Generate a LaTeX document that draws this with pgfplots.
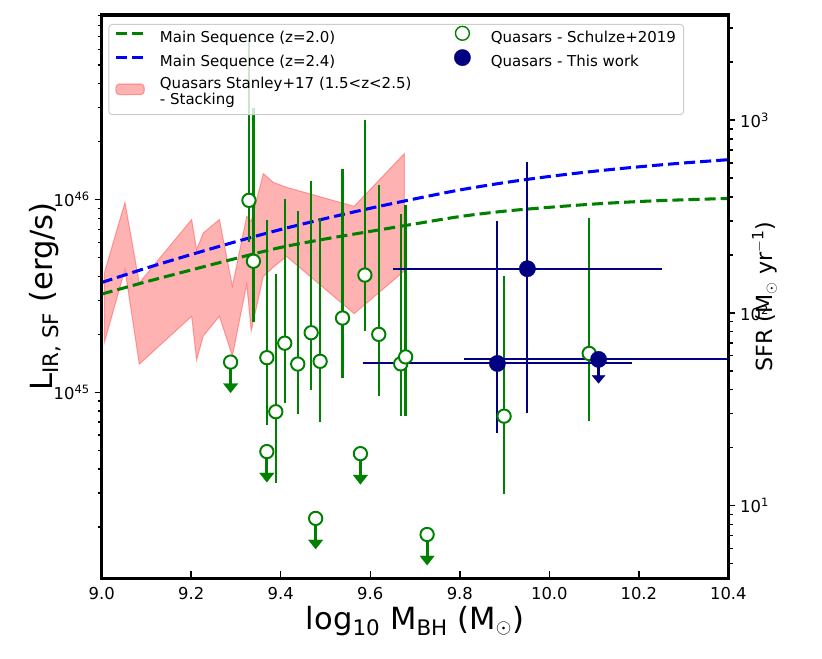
\documentclass[border=0pt]{standalone}
\usepackage{fontspec}
\setmainfont{DejaVu Sans}
\usepackage{pgfplots}
\pgfplotsset{compat=1.18}
\definecolor{mplgreen}{RGB}{0,128,0}
\definecolor{mplblue}{RGB}{0,0,255}
\definecolor{mplnavy}{RGB}{0,0,128}
\definecolor{legframe}{RGB}{204,204,204}
\pgfplotsset{
  lineleg/.style={legend image code/.code={\draw[##1] (0pt,3.8pt) -- (20.4pt,3.8pt);}},
  arealeg/.style={legend image code/.code={\draw[##1] (0pt,-1.05pt) rectangle (20.4pt,6.65pt);}},
  markleg/.style={legend image code/.code={\path[draw=none,fill=none] (0pt,3.8pt) -- (20.4pt,3.8pt); \path[##1] plot coordinates {(10.2pt,3.8pt)};}},
}
\begin{document}
\begin{tikzpicture}
\path[use as bounding box] (-73.2pt,-57.4pt) rectangle (518.6pt,416.4pt);
\begin{axis}[
  at={(0pt,0pt)}, anchor=south west,
  scale only axis, width=451.2pt, height=405.6pt,
  xmin=9, xmax=10.4,
  ymode=log, ymin=1.086e44, ymax=9.08e46,
  axis line style={draw=none},
  xtick={9.0,9.2,9.4,9.6,9.8,10.0,10.2,10.4},
  xticklabels={9.0,9.2,9.4,9.6,9.8,10.0,10.2,10.4},
  ytick={1e45,1e46},
  yticklabels={10\textsuperscript{45},10\textsuperscript{46}},
  minor ytick={2e44,3e44,4e44,5e44,6e44,7e44,8e44,9e44,2e45,3e45,4e45,5e45,6e45,7e45,8e45,9e45,2e46,3e46,4e46,5e46,6e46,7e46,8e46,9e46},
  xtick pos=bottom, ytick pos=left,
  xtick align=inside, ytick align=outside,
  major tick length=5pt, minor tick length=3pt,
  every tick/.style={black, line width=1.1pt},
  tick label style={font=\fontsize{11.8}{14}\selectfont},
  xticklabel style={yshift=-3pt},
  xlabel={log\textsubscript{10} M\textsubscript{BH} (M\textsubscript{$\odot$})},
  xlabel style={font=\fontsize{22}{26}\selectfont, at={([yshift=-20pt]axis description cs:0.5,0)}, anchor=north, inner sep=0pt},
  ylabel={L\textsubscript{IR, SF} (erg/s)},
  ylabel style={font=\fontsize{22}{26}\selectfont, at={([xshift=-40.8pt]axis description cs:0,0.5)}, anchor=center, inner sep=0pt},
  legend columns=2,
  legend cell align=left,
  legend style={at={(axis description cs:0,1)}, anchor=north west, xshift=4.8pt, yshift=-6.5pt,
    draw=legframe, line width=0.7pt, rounded corners=2.5pt, fill=white, fill opacity=0.8, draw opacity=1, text opacity=1,
    font=\fontsize{10.8}{11.5}\selectfont,
    inner xsep=4pt, inner ysep=1.4pt, row sep=0pt,
    nodes={text height=8.2pt, text depth=2.6pt, inner ysep=2.4pt, inner xsep=1.5pt},
    /tikz/every odd column/.append style={column sep=8.7pt},
    /tikz/every even column/.append style={column sep=25pt}},
]
% Stanley+17 stacking band
\addplot[forget plot, fill=red, fill opacity=0.3, draw=red, draw opacity=0.3, line width=0.75pt] coordinates {
(9.006,4.17e45) (9.052,9.68e45) (9.084,3.70e45) (9.201,7.88e45) (9.212,5.51e45) (9.227,6.72e45) (9.263,7.88e45) (9.292,3.56e45) (9.324,8.19e45) (9.334,7.73e45) (9.361,1.365e46) (9.383,1.230e46) (9.413,1.158e46) (9.564,9.23e45) (9.676,1.730e46)
(9.676,4.26e45) (9.564,2.56e45) (9.413,5.07e45) (9.383,4.45e45) (9.361,3.99e45) (9.334,2.08e45) (9.324,3.64e45) (9.292,1.54e45) (9.263,2.48e45) (9.227,1.96e45) (9.212,1.47e45) (9.201,2.48e45) (9.084,1.40e45) (9.052,4.34e45) (9.006,1.81e45) (9.006,4.17e45)
};
% Main sequence z=2.0
\addplot[forget plot, mplgreen, line width=2.2pt, dash pattern=on 8pt off 3.6pt, smooth] coordinates {
(9.0,3.236e45) (9.1,3.750e45) (9.2,4.315e45) (9.3,4.955e45) (9.4,5.649e45) (9.5,6.252e45) (9.6,6.839e45) (9.7,7.482e45) (9.8,8.166e45) (9.9,8.710e45) (10.0,9.120e45) (10.1,9.484e45) (10.2,9.772e45) (10.3,9.977e45) (10.4,1.0139e46)
};
% Main sequence z=2.4
\addplot[forget plot, mplblue, line width=2.2pt, dash pattern=on 8pt off 3.6pt, smooth] coordinates {
(9.0,3.715e45) (9.1,4.416e45) (9.2,5.188e45) (9.3,6.053e45) (9.4,6.998e45) (9.5,7.980e45) (9.6,9.016e45) (9.7,1.0093e46) (9.8,1.122e46) (9.9,1.2246e46) (10.0,1.3183e46) (10.1,1.4028e46) (10.2,1.4791e46) (10.3,1.5488e46) (10.4,1.6106e46)
};
% Schulze+2019 detections: error bars
\addplot[forget plot, only marks, mark=none,
  error bars/.cd, y dir=both, y explicit, error mark=none,
  error bar style={mplgreen, solid, line width=1.7pt}]
  table[x=x, y=y, y error plus=ep, y error minus=em] {
x y ep em
9.329 9.91e45 5.76e46 3.90e45
9.339 4.79e45 2.506e46 2.48e45
9.369 1.514e45 6.37e45 8.39e44
9.389 7.94e44 3.33e45 4.54e44
9.409 1.80e45 8.32e45 9.23e44
9.438 1.403e45 7.29e45 6.34e44
9.468 2.04e45 1.05e46 1.017e45
9.488 1.449e45 6.59e45 7.47e44
9.538 2.43e45 1.199e46 1.239e45
9.588 4.06e45 2.17e46 1.975e45
9.619 2.00e45 9.97e45 1.04e45
9.668 1.406e45 7.03e45 6.51e44
9.679 1.528e45 7.86e45 7.73e44
9.899 7.53e44 3.26e45 4.57e44
10.089 1.592e45 6.45e45 8.82e44
};
% Schulze+2019 upper limits: shafts
\addplot[forget plot, only marks, mark=none,
  error bars/.cd, y dir=minus, y explicit, error mark=none,
  error bar style={mplgreen, solid, line width=2.2pt}]
  table[x=x, y=y, y error minus=em] {
x y em
9.288 1.436e45 3.58e44
9.369 4.93e44 1.23e44
9.478 2.22e44 5.53e43
9.578 4.81e44 1.20e44
9.727 1.832e44 4.56e43
};
% Schulze+2019 upper limits: arrow heads
\addplot[forget plot, only marks, mark=triangle*, mark size=6.07pt,
  mark options={rotate=180, yscale=0.735, fill=mplgreen, draw=mplgreen, line width=0.1pt}]
  table[x=x, y=ya] {
x ya
9.288 1.071e45
9.369 3.68e44
9.478 1.656e44
9.578 3.59e44
9.727 1.367e44
};
% This work: error bars
\addplot[forget plot, only marks, mark=none,
  error bars/.cd, x dir=both, x explicit, y dir=both, y explicit, error mark=none,
  error bar style={mplnavy, solid, line width=1.4pt}]
  table[x=x, y=y, x error=ex, y error plus=ep, y error minus=em] {
x y ex ep em
9.884 1.413e45 0.3 6.37e45 7.95e44
9.951 4.38e45 0.3 1.123e46 3.60e45
};
\addplot[forget plot, only marks, mark=none,
  error bars/.cd, x dir=both, x explicit, error mark=none,
  error bar style={mplnavy, solid, line width=1.4pt}]
  table[x=x, y=y, x error=ex] {
x y ex
10.110 1.483e45 0.3
};
\addplot[forget plot, only marks, mark=none,
  error bars/.cd, y dir=minus, y explicit, error mark=none,
  error bar style={mplnavy, solid, line width=2.2pt}]
  table[x=x, y=y, y error minus=em] {
x y em
10.110 1.483e45 2.86e44
};
\addplot[forget plot, only marks, mark=triangle*, mark size=5.5pt,
  mark options={rotate=180, yscale=0.69, fill=mplnavy, draw=mplnavy, line width=0.1pt}]
  table[x=x, y=ya] {
x ya
10.110 1.186e45
};
% Schulze+2019 markers
\addplot[forget plot, only marks, mark=*, mark size=4.8pt,
  mark options={draw=mplgreen, fill=white, line width=1.4pt}]
  table[x=x, y=y] {
x y
9.288 1.436e45
9.329 9.91e45
9.339 4.79e45
9.369 1.514e45
9.369 4.93e44
9.389 7.94e44
9.409 1.80e45
9.438 1.403e45
9.468 2.04e45
9.478 2.22e44
9.488 1.449e45
9.538 2.43e45
9.578 4.81e44
9.588 4.06e45
9.619 2.00e45
9.668 1.406e45
9.679 1.528e45
9.727 1.832e44
9.899 7.53e44
10.089 1.592e45
};
% This work markers
\addplot[forget plot, only marks, mark=*, mark size=5.9pt,
  mark options={draw=mplnavy, fill=mplnavy, line width=0.2pt}]
  table[x=x, y=y] {
x y
9.884 1.413e45
9.951 4.38e45
10.110 1.483e45
};
% legend
\addlegendimage{lineleg, mplgreen, line width=2.2pt, dash pattern=on 8pt off 3.6pt}
\addlegendentry{Main Sequence (z=2.0)}
\addlegendimage{markleg, mark=*, mark size=5pt, mark options={solid, draw=mplgreen, fill=white, fill opacity=1, line width=1pt}}
\addlegendentry{Quasars - Schulze+2019}
\addlegendimage{lineleg, mplblue, line width=2.2pt, dash pattern=on 8pt off 3.6pt}
\addlegendentry{Main Sequence (z=2.4)}
\addlegendimage{markleg, mark=*, mark size=5.9pt, mark options={solid, draw=mplnavy, fill=mplnavy, fill opacity=1, line width=0.2pt}}
\addlegendentry{Quasars - This work}
\addlegendimage{arealeg, fill=red, fill opacity=0.3, draw=red, draw opacity=0.3, line width=0.75pt}
\addlegendentry[text height=, text depth=]{\begin{tabular}[c]{@{}l@{}}Quasars Stanley+17 (1.5<z<2.5)\\- Stacking\end{tabular}}
\end{axis}
\begin{axis}[
  at={(0pt,0pt)}, anchor=south west,
  scale only axis, width=451.2pt, height=405.6pt,
  xmin=9, xmax=10.4, axis x line=none,
  axis y line*=right,
  axis line style={draw=none},
  extra description/.code={\draw[black, line width=2.3pt, line cap=rect] (0,0) rectangle (1,1);},
  ymode=log, ymin=4.198, ymax=3508,
  ytick={10,100,1000},
  yticklabels={10\textsuperscript{1},10\textsuperscript{2},10\textsuperscript{3}},
  minor ytick={5,6,7,8,9,20,30,40,50,60,70,80,90,200,300,400,500,600,700,800,900,2000,3000},
  ytick align=outside,
  major tick length=5pt, minor tick length=3pt,
  every tick/.style={black, line width=1.1pt},
  tick label style={font=\fontsize{11.8}{14}\selectfont},
  ylabel={SFR (M\textsubscript{$\odot$} yr\textsuperscript{$-$1})},
  ylabel style={font=\fontsize{16}{19}\selectfont, at={([xshift=26pt]axis description cs:1,0.5)}, anchor=center, inner sep=0pt},
]
\end{axis}
\end{tikzpicture}
\end{document}
